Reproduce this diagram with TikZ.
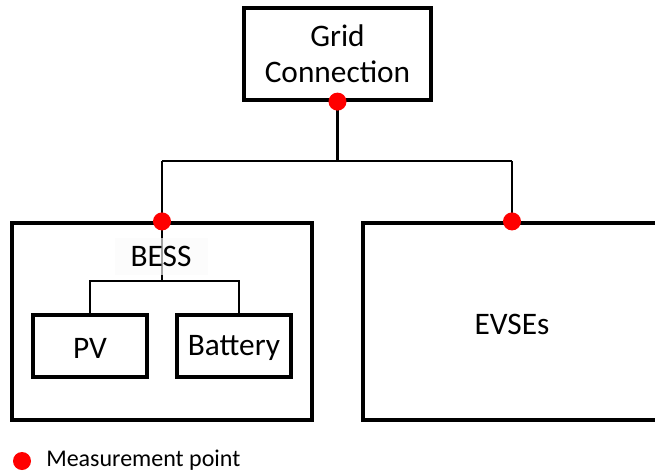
\documentclass[tikz,border=0pt]{standalone}
\usepackage{fontspec}
\setmainfont{Carlito}
\usetikzlibrary{calc}
\begin{document}
\begin{tikzpicture}[x=0.75pt,y=-0.75pt,
  box/.style={draw=black,line width=2.4pt,rectangle,inner sep=0pt,align=center,
    font=\fontsize{23.5}{27}\selectfont},
  wire/.style={draw=black,line width=1.9pt},
  mpoint/.style={circle,fill=red,draw=none,minimum size=13.5pt,inner sep=0pt},
  lbl/.style={inner sep=0pt,font=\fontsize{23.5}{27}\selectfont}]
\useasboundingbox (0,0) rectangle (655,472);
\begin{scope}
\clip (0,0) rectangle (655,472);
% boxes
\node[box,minimum width=140.25pt,minimum height=69pt] (grid) at (337.5,54) {Grid\\Connection};
\node[box,minimum width=225pt,minimum height=147.75pt] (bess) at (162,321.5) {};
\node[box,minimum width=270pt,minimum height=147.75pt] (evse) at (543,321.5) {};
\node[lbl] (evselbl) at (512,324) {EVSEs};
\node[box,minimum width=85.5pt,minimum height=46.5pt] (pv) at (90,346) {};
\node[box,minimum width=85.5pt,minimum height=46.5pt] (batt) at (234,346) {};
\node[lbl] (pvlbl) at (90,348) {PV};
\node[lbl] (battlbl) at (234,348) {Battery};
% wires
\coordinate (busc) at (337.5,161);
\coordinate (busl) at (162,161);
\coordinate (busr) at (512,161);
\coordinate (ibus) at (162,281);
\draw[wire] (grid.south) -- (busc);
\draw[wire] (busl) -- (busr);
\draw[wire] (busl) -- (bess.north);
\draw[wire] (busr) -- (busr |- evse.north);
\draw[wire] (bess.north) -- (ibus);
\draw[wire] (pv.north) |- (ibus) -| ([xshift=3.75pt]batt.north);
% BESS label with translucent background
\node[minimum width=69.75pt,minimum height=27.75pt,inner sep=0pt,fill=gray!4,fill opacity=0.65,text opacity=1,
  font=\fontsize{23.5}{27}\selectfont] (besslbl) at (161,256) {BESS};
% measurement points
\node[mpoint] (mp1) at (grid.south) {};
\node[mpoint] (mp2) at (bess.north) {};
\node[mpoint] (mp3) at (busr |- evse.north) {};
% legend
\node[mpoint] (legdot) at (22,461) {};
\node[anchor=west,inner sep=0pt,font=\fontsize{18}{21}\selectfont] (legtxt) at (46,460) {Measurement point};
\end{scope}
\end{tikzpicture}
\end{document}
